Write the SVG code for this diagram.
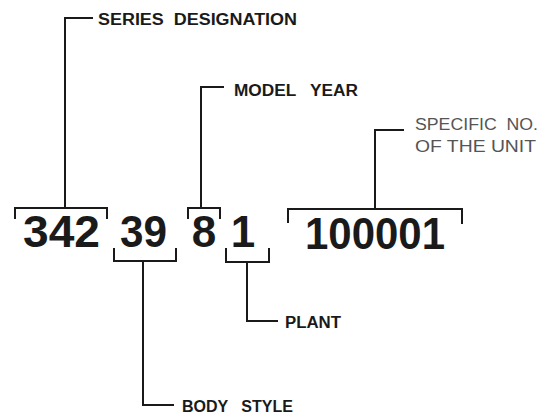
<svg xmlns="http://www.w3.org/2000/svg" width="547" height="418" viewBox="0 0 547 418">
<style>
.ln{fill:none;stroke:#1a1a1a;stroke-width:2;stroke-linecap:square}
.lbl{font-family:"Liberation Sans",Arial,sans-serif;font-weight:bold;font-size:16px;fill:#1a1a1a;white-space:pre}
.lbl2{font-family:"Liberation Sans",Arial,sans-serif;font-size:16px;fill:#555;white-space:pre}
.num{font-family:"Liberation Sans",Arial,sans-serif;font-weight:bold;font-size:44px;fill:#1a1a1a}
</style>
<rect width="547" height="418" fill="#fff"/>
<g id="connectors">
<path class="ln" d="M92,18 H65 V208"/>
<path class="ln" d="M15,218 V208 H107 V218"/>
<path class="ln" d="M223,87 H201 V208"/>
<path class="ln" d="M188,218 V208 H220 V218"/>
<path class="ln" d="M403,130 H375 V209"/>
<path class="ln" d="M288,222 V209 H462 V223"/>
<path class="ln" d="M114,249 V261 H176 V249"/>
<path class="ln" d="M143,261 V405 H173"/>
<path class="ln" d="M226,249 V262 H269 V249"/>
<path class="ln" d="M247,262 V321 H277"/>
</g>
<g id="series"><text class="lbl" x="98" y="24.5" textLength="199" lengthAdjust="spacingAndGlyphs" xml:space="preserve">SERIES  DESIGNATION</text></g>
<g id="model-year"><text class="lbl" x="234" y="96" textLength="124" lengthAdjust="spacingAndGlyphs" xml:space="preserve">MODEL   YEAR</text></g>
<g id="specific"><text class="lbl2" x="415" y="130" textLength="123" lengthAdjust="spacingAndGlyphs" xml:space="preserve">SPECIFIC  NO.</text><text class="lbl2" x="415" y="152" textLength="121" lengthAdjust="spacingAndGlyphs">OF THE UNIT</text></g>
<g id="plant"><text class="lbl" x="285" y="328" textLength="56" lengthAdjust="spacingAndGlyphs">PLANT</text></g>
<g id="body-style"><text class="lbl" x="182" y="412" textLength="111" lengthAdjust="spacingAndGlyphs" xml:space="preserve">BODY   STYLE</text></g>
<g id="n342"><text class="num" x="23" y="247" textLength="77" lengthAdjust="spacingAndGlyphs">342</text></g>
<g id="n39"><text class="num" x="120" y="247" textLength="47" lengthAdjust="spacingAndGlyphs">39</text></g>
<g id="n8"><text class="num" x="204" y="247" text-anchor="middle">8</text></g>
<g id="n1"><text class="num" x="243" y="247" text-anchor="middle">1</text></g>
<g id="n100001"><text class="num" x="305" y="249" textLength="140" lengthAdjust="spacingAndGlyphs" fill="#333">100001</text></g>
</svg>
